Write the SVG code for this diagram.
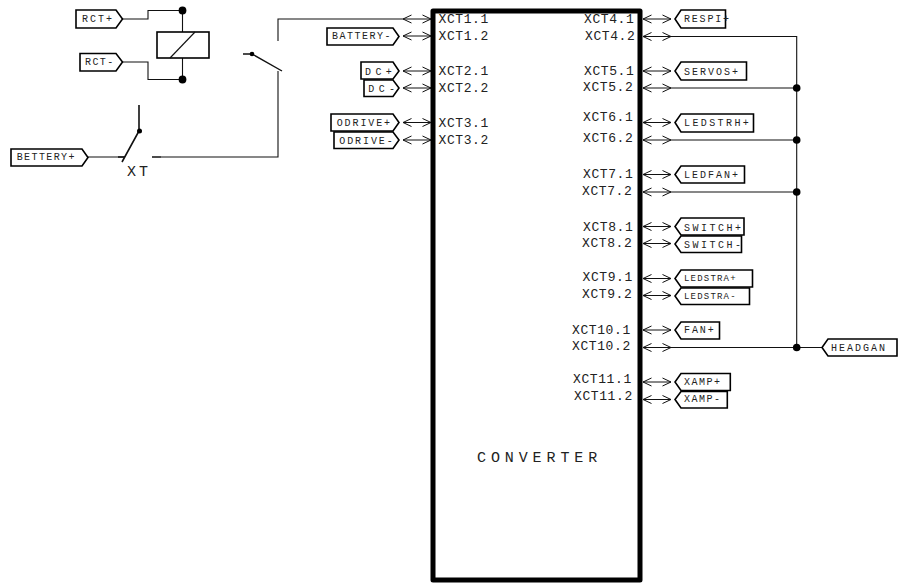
<svg xmlns="http://www.w3.org/2000/svg" width="899" height="583" viewBox="0 0 899 583">
<style>
text{font-family:"Liberation Mono",monospace;fill:#222}
.p{font-size:13px;letter-spacing:.6px}
.t{font-size:10px}
.n{font-size:9px}
.tag{fill:#fff;stroke:#000;stroke-width:1.6}
.w{fill:none;stroke:#111;stroke-width:1.1}
.a{fill:none;stroke:#111;stroke-width:1;marker-start:url(#h);marker-end:url(#h)}
.d{fill:#000}
</style>
<defs>
<marker id="h" markerUnits="userSpaceOnUse" markerWidth="12" markerHeight="10" refX="10" refY="5" orient="auto-start-reverse"><path d="M1.500 1L10 5L1.500 9" fill="none" stroke="#111" stroke-width="1"/></marker>
</defs>
<rect width="899" height="583" fill="#fff"/>
<g id="connectors">
<path class="w" d="M122.500 19H148V10.500H182.500M122.500 62H148V79.500H182.500M182.500 10.500V32M182.500 58V79.500"/>
<path class="w" d="M88 157H125"/>
<path d="M118 157H125M152 157H161" fill="none" stroke="#111" stroke-width="1.600"/>
<path class="w" d="M161 157H278V71"/>
<path class="w" d="M278 41V19H403"/>
<path class="w" style="stroke-width:1.400" d="M243 54H252L282 71"/>
<path class="w" style="stroke-width:1.600" d="M122 162L139 131V105"/>
<circle class="d" cx="252" cy="54" r="2.300"/>
<circle class="d" cx="139.500" cy="131" r="2.500"/>
<circle class="d" cx="182.500" cy="10.500" r="3.900"/>
<circle class="d" cx="182.500" cy="79.500" r="3.900"/>
<path class="a" d="M403 19H431"/><path class="a" d="M403 36H431"/><path class="a" d="M403 71H431"/><path class="a" d="M403 88H431"/><path class="a" d="M403 122.500H431"/><path class="a" d="M403 140H431"/>
<path class="a" d="M643 19H671"/><path class="a" d="M643 36.500H671"/><path class="a" d="M643 71H671"/><path class="a" d="M643 88H671"/><path class="a" d="M643 122.500H671"/><path class="a" d="M643 140H671"/><path class="a" d="M643 174.500H671"/><path class="a" d="M643 192H671"/><path class="a" d="M643 226.500H671"/><path class="a" d="M643 243.500H671"/><path class="a" d="M643 278.500H671"/><path class="a" d="M643 295.500H671"/><path class="a" d="M643 330H671"/><path class="a" d="M643 347.500H671"/><path class="a" d="M643 382H671"/><path class="a" d="M643 399.500H671"/>
<path class="w" d="M671 36.500H796.700V347.500M671 88H796.700M671 140H796.700M671 192H796.700M671 347.500H822"/>
<circle class="d" cx="796.700" cy="88" r="3.800"/><circle class="d" cx="796.700" cy="140" r="3.800"/><circle class="d" cx="796.700" cy="192" r="3.800"/><circle class="d" cx="796.700" cy="347.500" r="3.800"/>
</g>
<g id="relay-coil"><rect x="157" y="32" width="52" height="26" fill="#fff" stroke="#000" stroke-width="1.600"/><path class="w" d="M170 58L195 32"/></g>
<g id="xt"><text x="127" y="176" style="font-size:15px;letter-spacing:3px">XT</text></g>
<g id="converter">
<rect x="433" y="11" width="207" height="569" fill="#fff" stroke="#000" stroke-width="5" stroke-linejoin="round"/>
<text x="477" y="462" style="font-size:15px;letter-spacing:4.900px">CONVERTER</text>
<text class="p" x="438.500" y="23">XCT1.1</text><text class="p" x="438.500" y="40">XCT1.2</text><text class="p" x="438.500" y="75">XCT2.1</text><text class="p" x="438.500" y="92">XCT2.2</text><text class="p" x="438.500" y="127">XCT3.1</text><text class="p" x="438.500" y="144">XCT3.2</text>
<text class="p" x="584" y="23">XCT4.1</text><text class="p" x="585" y="40">XCT4.2</text><text class="p" x="584" y="74.500">XCT5.1</text><text class="p" x="583" y="91">XCT5.2</text><text class="p" x="583" y="121">XCT6.1</text><text class="p" x="583" y="142">XCT6.2</text><text class="p" x="583" y="178">XCT7.1</text><text class="p" x="582" y="195">XCT7.2</text><text class="p" x="583" y="231">XCT8.1</text><text class="p" x="582" y="247">XCT8.2</text><text class="p" x="582.500" y="281">XCT9.1</text><text class="p" x="582" y="298">XCT9.2</text><text class="p" x="572" y="334">XCT10.1</text><text class="p" x="572" y="350">XCT10.2</text><text class="p" x="573" y="382.500">XCT11.1</text><text class="p" x="574" y="400">XCT11.2</text>
</g>
<g id="RCT-plus"><path class="tag" d="M76 10H116L122.500 19L116 28H76Z"/><text class="t" x="82" y="22" letter-spacing="2">RCT+</text></g>
<g id="RCT-minus"><path class="tag" d="M80 53.500H116L122.500 62L116 71H80Z"/><text class="t" x="85" y="65" letter-spacing="1.400">RCT-</text></g>
<g id="BETTERY-plus"><path class="tag" d="M11 149H82L88 157.500L82 166H11Z"/><text class="t" x="16.700" y="160" letter-spacing="1.400">BETTERY+</text></g>
<g id="BATTERY-minus"><path class="tag" d="M327 28H393L399 36.500L393 45H327Z"/><text class="t" x="332" y="39" letter-spacing="1.500">BATTERY-</text></g>
<g id="DC-plus"><path class="tag" d="M361 62H393L399 71L393 79H361Z"/><text class="t" x="365" y="74.500" letter-spacing="4.400">DC+</text></g>
<g id="DC-minus"><path class="tag" d="M364 80H393L399 88L393 96.500H364Z"/><text class="t" x="368.300" y="92" letter-spacing="4.400">DC-</text></g>
<g id="ODRIVE-plus"><path class="tag" d="M331 114H393L399 122.500L393 131H331Z"/><text class="t" x="336.700" y="125.700" letter-spacing="1.900">ODRIVE+</text></g>
<g id="ODRIVE-minus"><path class="tag" d="M334 132H393L399 140L393 148.500H334Z"/><text class="t" x="339.300" y="143.700" letter-spacing="1.900">ODRIVE-</text></g>
<g id="RESPI-plus"><path class="tag" d="M725.500 10H681L675 19L681 28H725.500Z"/><text class="t" x="684" y="22" letter-spacing="1.800">RESPI+</text></g>
<g id="SERVOS-plus"><path class="tag" d="M746.500 62H681L675 71L681 80H746.500Z"/><text class="t" x="684" y="74.700" letter-spacing="2">SERVOS+</text></g>
<g id="LEDSTRH-plus"><path class="tag" d="M753.500 114H681L675 122.500L681 132H753.500Z"/><text class="t" x="684" y="126" letter-spacing="2.400">LEDSTRH+</text></g>
<g id="LEDFAN-plus"><path class="tag" d="M744.500 166H681L675 174.500L681 183H744.500Z"/><text class="t" x="684" y="178" letter-spacing="2">LEDFAN+</text></g>
<g id="SWITCH-plus"><path class="tag" d="M744 218H681L675 226.500L681 235H744Z"/><text class="t" x="684" y="230.700" letter-spacing="2.500">SWITCH+</text></g>
<g id="SWITCH-minus"><path class="tag" d="M741.500 236H681L675 244L681 252.500H741.500Z"/><text class="t" x="684" y="248" letter-spacing="2.500">SWITCH-</text></g>
<g id="LEDSTRA-plus"><path class="tag" d="M752.500 270H681L675 278.500L681 287H752.500Z"/><text class="n" x="684" y="281" letter-spacing="1.200">LEDSTRA+</text></g>
<g id="LEDSTRA-minus"><path class="tag" d="M749.500 288H681L675 296L681 304.500H749.500Z"/><text class="n" x="684" y="298.700" letter-spacing="1.200">LEDSTRA-</text></g>
<g id="FAN-plus"><path class="tag" d="M719.500 322H681L675 330L681 339H719.500Z"/><text class="t" x="684" y="332.700" letter-spacing="1.900">FAN+</text></g>
<g id="XAMP-plus"><path class="tag" d="M730.300 373.500H681L675 382L681 390.500H730.300Z"/><text class="t" x="684" y="384.700" letter-spacing="1.500">XAMP+</text></g>
<g id="XAMP-minus"><path class="tag" d="M727.300 391.500H681L675 399.500L681 408H727.300Z"/><text class="t" x="684" y="402" letter-spacing="1.500">XAMP-</text></g>
<g id="HEADGAN"><path class="tag" d="M897 339H828L822 347.500L828 356H897Z"/><text class="t" x="831" y="351" letter-spacing="2">HEADGAN</text></g>
</svg>
